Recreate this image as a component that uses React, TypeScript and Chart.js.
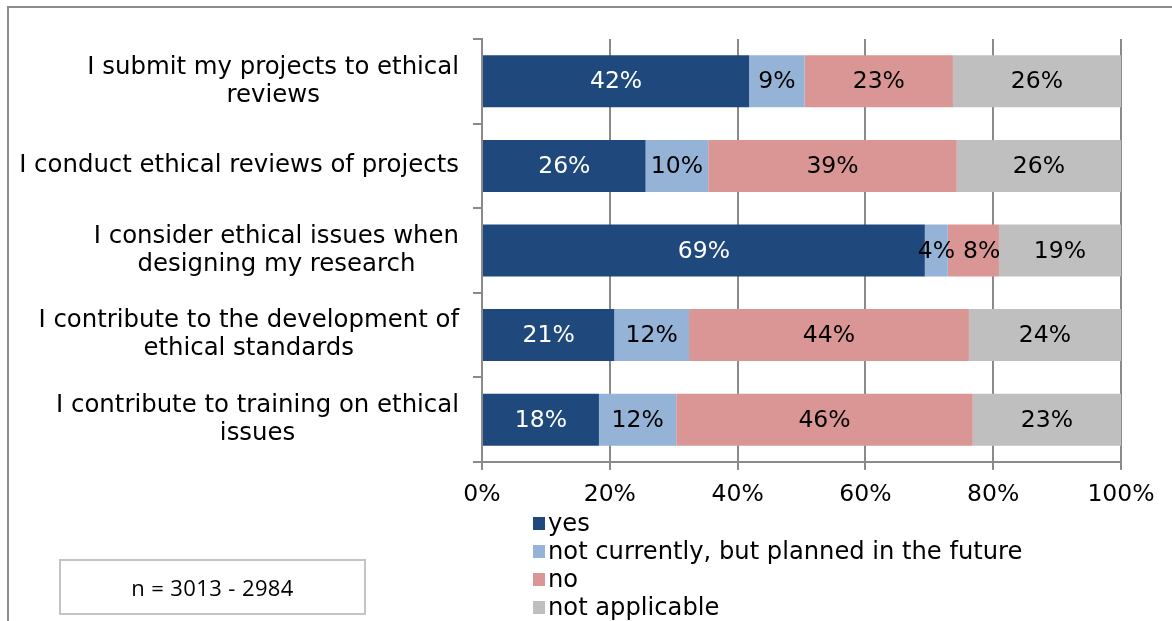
import React, { useEffect, useRef } from 'react';
import { Chart, registerables } from 'chart.js';

Chart.register(...registerables);

const categories: string[][] = [
  ['I submit my projects to ethical', 'reviews'],
  ['I conduct ethical reviews of projects'],
  ['I consider ethical issues when', 'designing my research'],
  ['I contribute to the development of', 'ethical standards'],
  ['I contribute to training on ethical', 'issues'],
];

const seriesNames = ['yes', 'not currently, but planned in the future', 'no', 'not applicable'];
const seriesColors = ['#1F497D', '#95B3D7', '#D99694', '#BFBFBF'];
const labelColors = ['#FFFFFF', '#000000', '#000000', '#000000'];

const yesValues = [41.8, 25.6, 69.3, 20.7, 18.3];
const plannedValues = [8.7, 9.8, 3.6, 11.7, 12.1];
const noValues = [23.2, 38.9, 8.0, 43.8, 46.4];
const naValues = [26.3, 25.7, 19.1, 23.8, 23.2];

const xMin = 0;
const xMax = 100;
const xStep = 20;

const sampleNote = 'n = 3013 - 2984';

const FONT = '"DejaVu Sans", Verdana, sans-serif';

const yLabelPlugin = {
  id: 'yLabelPlugin',
  afterDraw(chart: any) {
    const ctx = chart.ctx;
    const ys = chart.scales.y;
    ctx.save();
    ctx.font = `24.4px ${FONT}`;
    ctx.fillStyle = '#000';
    ctx.textAlign = 'center';
    ctx.textBaseline = 'middle';
    categories.forEach((lines, i) => {
      const y = ys.getPixelForValue(i);
      const w = Math.max(...lines.map((l) => ctx.measureText(l).width));
      const cx = ys.right - 23 - w / 2;
      lines.forEach((l, j) => {
        ctx.fillText(l, cx, y + (j - (lines.length - 1) / 2) * 28);
      });
    });
    ctx.restore();
  },
};

const valueLabelPlugin = {
  id: 'valueLabelPlugin',
  afterDatasetsDraw(chart: any) {
    const ctx = chart.ctx;
    ctx.save();
    ctx.font = `23.5px ${FONT}`;
    ctx.textAlign = 'center';
    ctx.textBaseline = 'middle';
    const n = categories.length;
    for (let i = 0; i < n; i++) {
      const items: { cx: number; y: number; w: number; text: string; color: string }[] = [];
      chart.data.datasets.forEach((ds: any, d: number) => {
        const el = chart.getDatasetMeta(d).data[i];
        if (!el) return;
        const p = el.getProps(['x', 'base', 'y'], true);
        const text = Math.round(ds.data[i]) + '%';
        const w = ctx.measureText(text).width;
        items.push({ cx: (p.x + p.base) / 2, y: p.y, w, text, color: labelColors[d] });
      });
      for (let k = 1; k < items.length; k++) {
        const prev = items[k - 1];
        const cur = items[k];
        const minCx = prev.cx + prev.w / 2 + 8 + cur.w / 2;
        if (cur.cx < minCx) cur.cx = minCx;
      }
      items.forEach((it) => {
        ctx.fillStyle = it.color;
        ctx.fillText(it.text, it.cx, it.y + 1);
      });
    }
    ctx.restore();
  },
};

export default function App() {
  const canvasRef = useRef<HTMLCanvasElement | null>(null);

  useEffect(() => {
    if (!canvasRef.current) return;
    const valueSets = [yesValues, plannedValues, noValues, naValues];
    const chart = new Chart(canvasRef.current, {
      type: 'bar',
      data: {
        labels: categories.map((c) => c.join(' ')),
        datasets: seriesNames.map((name, k) => ({
          label: name,
          data: valueSets[k],
          backgroundColor: seriesColors[k],
          borderWidth: 0,
          barPercentage: 0.615,
          categoryPercentage: 1.0,
        })),
      },
      plugins: [yLabelPlugin, valueLabelPlugin],
      options: {
        indexAxis: 'y',
        responsive: false,
        animation: false,
        devicePixelRatio: 1,
        layout: { padding: { top: 39, right: 51, left: 0, bottom: 0 } },
        plugins: {
          legend: { display: false },
          tooltip: { enabled: false },
          title: { display: false },
        },
        scales: {
          x: {
            stacked: true,
            min: xMin,
            max: xMax,
            ticks: {
              stepSize: xStep,
              callback: (v: any) => v + '%',
              font: { family: FONT, size: 23.5 },
              color: '#000',
              padding: 11,
              maxRotation: 0,
            },
            grid: { color: '#8A8A8A', lineWidth: 2, tickLength: 8, drawTicks: true },
            border: { color: '#8A8A8A', width: 2 },
            afterFit: (s: any) => {
              s.height = 621 - 462;
            },
          },
          y: {
            stacked: true,
            offset: true,
            ticks: { display: false },
            grid: {
              offset: true,
              drawOnChartArea: false,
              drawTicks: true,
              tickLength: 9,
              color: '#8A8A8A',
              lineWidth: 2,
            },
            border: { color: '#8A8A8A', width: 2 },
            afterFit: (s: any) => {
              s.width = 482;
            },
          },
        },
      } as any,
    });
    return () => chart.destroy();
  }, []);

  return (
    <div
      style={{
        position: 'fixed',
        left: 0,
        top: 0,
        width: 1172,
        height: 621,
        background: '#fff',
        overflow: 'hidden',
      }}
    >
      <div
        style={{
          position: 'absolute',
          left: 7,
          top: 6,
          width: 1200,
          height: 700,
          borderTop: '2px solid #8C8C8C',
          borderLeft: '2px solid #8C8C8C',
        }}
      />
      <canvas
        ref={canvasRef}
        width={1172}
        height={621}
        style={{ position: 'absolute', left: 0, top: 0, width: 1172, height: 621 }}
      />
      <div style={{ position: 'absolute', left: 533, top: 509, fontFamily: FONT, fontSize: 24.2, color: '#000' }}>
        {seriesNames.map((name, k) => (
          <div key={name} style={{ height: 28, display: 'flex', alignItems: 'center', whiteSpace: 'nowrap' }}>
            <span
              style={{
                display: 'inline-block',
                width: 12,
                height: 13,
                background: seriesColors[k],
                marginRight: 3,
              }}
            />
            <span style={{ lineHeight: '28px' }}>{name}</span>
          </div>
        ))}
      </div>
      <div
        style={{
          position: 'absolute',
          left: 59,
          top: 559,
          width: 307,
          height: 56,
          boxSizing: 'border-box',
          border: '2px solid #C4C4C4',
          display: 'flex',
          alignItems: 'center',
          justifyContent: 'center',
          fontFamily: '"Open Sans", sans-serif',
          fontSize: 22,
          letterSpacing: 0.4,
          color: '#000',
        }}
      >
        {sampleNote}
      </div>
    </div>
  );
}
